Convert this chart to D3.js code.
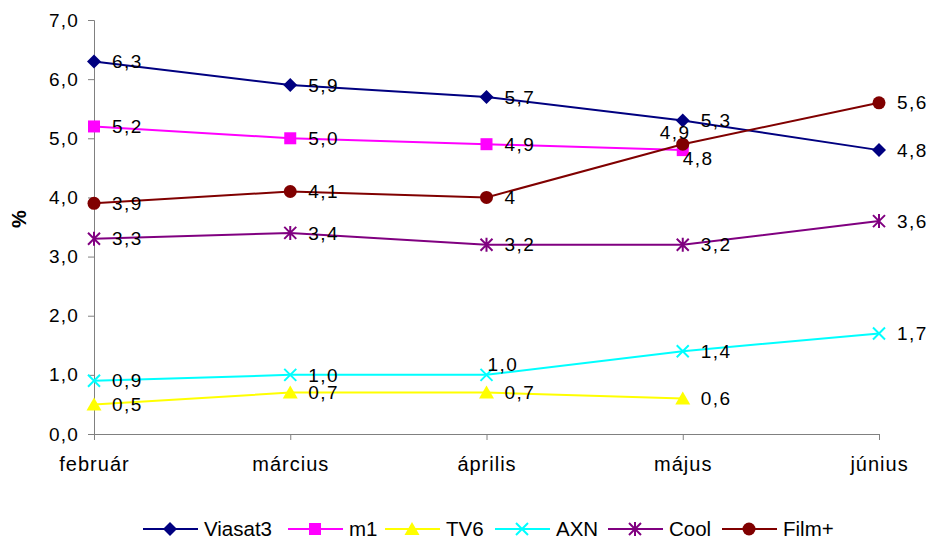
<!DOCTYPE html>
<html>
<head>
<meta charset="utf-8">
<script src="https://cdn.jsdelivr.net/npm/d3@7.9.0/dist/d3.min.js"></script>
<style>
  body { margin: 0; background: #fff; }
  text { font-family: "Liberation Sans", Arial, sans-serif; fill: #000; }
</style>
</head>
<body>
<svg width="930" height="541"></svg>
<script>
// months on the x axis
const months = ["február", "március", "április", "május", "június"];
// series values (%), null = no data
const viasat3 = [6.3, 5.9, 5.7, 5.3, 4.8];
const m1 = [5.2, 5.0, 4.9, 4.8, null];
const tv6 = [0.5, 0.7, 0.7, 0.6, null];
const axn = [0.9, 1.0, 1.0, 1.4, 1.7];
const cool = [3.3, 3.4, 3.2, 3.2, 3.6];
const filmPlus = [3.9, 4.1, 4.0, 4.9, 5.6];
const yTicks = [0, 1, 2, 3, 4, 5, 6, 7];

const series = [
  { name: "Viasat3", values: viasat3, color: "#000080", symbol: "diamond" },
  { name: "m1", values: m1, color: "#ff00ff", symbol: "square" },
  { name: "TV6", values: tv6, color: "#ffff00", symbol: "triangle" },
  { name: "AXN", values: axn, color: "#00ffff", symbol: "x" },
  { name: "Cool", values: cool, color: "#800080", symbol: "star" },
  { name: "Film+", values: filmPlus, color: "#800000", symbol: "circle" }
];

// label tweaks where the original moved a label off its default spot
const labelShift = {
  "AXN-2": [-17, -11],
  "Film+-3": [-41, -12],
  "m1-3": [-18, 8]
};

const svg = d3.select("svg");
const x = d3.scalePoint().domain(months).range([94, 879]);
const y = d3.scaleLinear().domain([0, 7]).range([434, 20]);

const comma = v => d3.format(".1f")(v).replace(".", ",");
const fmt = (v, name) => (name === "Film+" && v === 4) ? "4" : comma(v);

// axes
const yAxis = svg.append("g").attr("transform", "translate(94,0)")
  .call(d3.axisLeft(y).tickValues(yTicks).tickSize(6).tickPadding(9).tickFormat(comma));
const xAxis = svg.append("g").attr("transform", "translate(0,434)")
  .call(d3.axisBottom(x).tickSize(6).tickPadding(17));
[yAxis, xAxis].forEach(g => {
  g.select(".domain").attr("stroke", "#808080");
  g.selectAll(".tick line").attr("stroke", "#808080");
  g.selectAll("text").style("font-size", "19px").attr("letter-spacing", "1.2px");
});
xAxis.selectAll("text").style("font-size", "20px").attr("letter-spacing", "1px");

svg.append("text")
  .attr("transform", "translate(26,219) rotate(-90)")
  .attr("text-anchor", "middle")
  .style("font-size", "20px").style("font-weight", "bold")
  .text("%");

function drawMarker(g, s, cx, cy) {
  const c = s.color;
  if (s.symbol === "diamond") {
    g.append("path").attr("d", `M${cx},${cy - 7}L${cx + 7},${cy}L${cx},${cy + 7}L${cx - 7},${cy}Z`).attr("fill", c);
  } else if (s.symbol === "square") {
    g.append("rect").attr("x", cx - 6).attr("y", cy - 6).attr("width", 12).attr("height", 12).attr("fill", c);
  } else if (s.symbol === "triangle") {
    g.append("path").attr("d", `M${cx},${cy - 7}L${cx + 7.5},${cy + 6}L${cx - 7.5},${cy + 6}Z`).attr("fill", c);
  } else if (s.symbol === "x") {
    g.append("path").attr("d", `M${cx - 6},${cy - 6}L${cx + 6},${cy + 6}M${cx - 6},${cy + 6}L${cx + 6},${cy - 6}`)
      .attr("stroke", c).attr("stroke-width", 2);
  } else if (s.symbol === "star") {
    g.append("path").attr("d", `M${cx - 6},${cy - 6}L${cx + 6},${cy + 6}M${cx - 6},${cy + 6}L${cx + 6},${cy - 6}M${cx},${cy - 7}L${cx},${cy + 7}`)
      .attr("stroke", c).attr("stroke-width", 2);
  } else {
    g.append("circle").attr("cx", cx).attr("cy", cy).attr("r", 6.5).attr("fill", c);
  }
}

const line = d3.line()
  .defined(d => d.v != null)
  .x(d => x(d.m)).y(d => y(d.v));

series.forEach(s => {
  const pts = s.values.map((v, i) => ({ m: months[i], v, i }));
  const g = svg.append("g");
  g.append("path").datum(pts).attr("d", line)
    .attr("fill", "none").attr("stroke", s.color).attr("stroke-width", 2);
  pts.filter(d => d.v != null).forEach(d => drawMarker(g, s, x(d.m), y(d.v)));
});

// data labels on top
series.forEach(s => {
  s.values.forEach((v, i) => {
    if (v == null) return;
    const sh = labelShift[s.name + "-" + i] || [0, 0];
    svg.append("text")
      .attr("x", x(months[i]) + 18 + sh[0])
      .attr("y", y(v) + sh[1])
      .attr("dy", "0.35em")
      .style("font-size", "19px")
      .attr("letter-spacing", "1.5px")
      .text(fmt(v, s.name));
  });
});

// legend
const legendX = [143, 288, 385, 495, 608, 722];
series.forEach((s, i) => {
  const g = svg.append("g");
  const lx = legendX[i], ly = 529;
  g.append("line").attr("x1", lx).attr("x2", lx + 55).attr("y1", ly).attr("y2", ly)
    .attr("stroke", s.color).attr("stroke-width", 2);
  drawMarker(g, s, lx + 27, ly);
  g.append("text").attr("x", lx + 61).attr("y", ly).attr("dy", "0.35em")
    .style("font-size", "20.5px").text(s.name);
});
</script>
</body>
</html>
